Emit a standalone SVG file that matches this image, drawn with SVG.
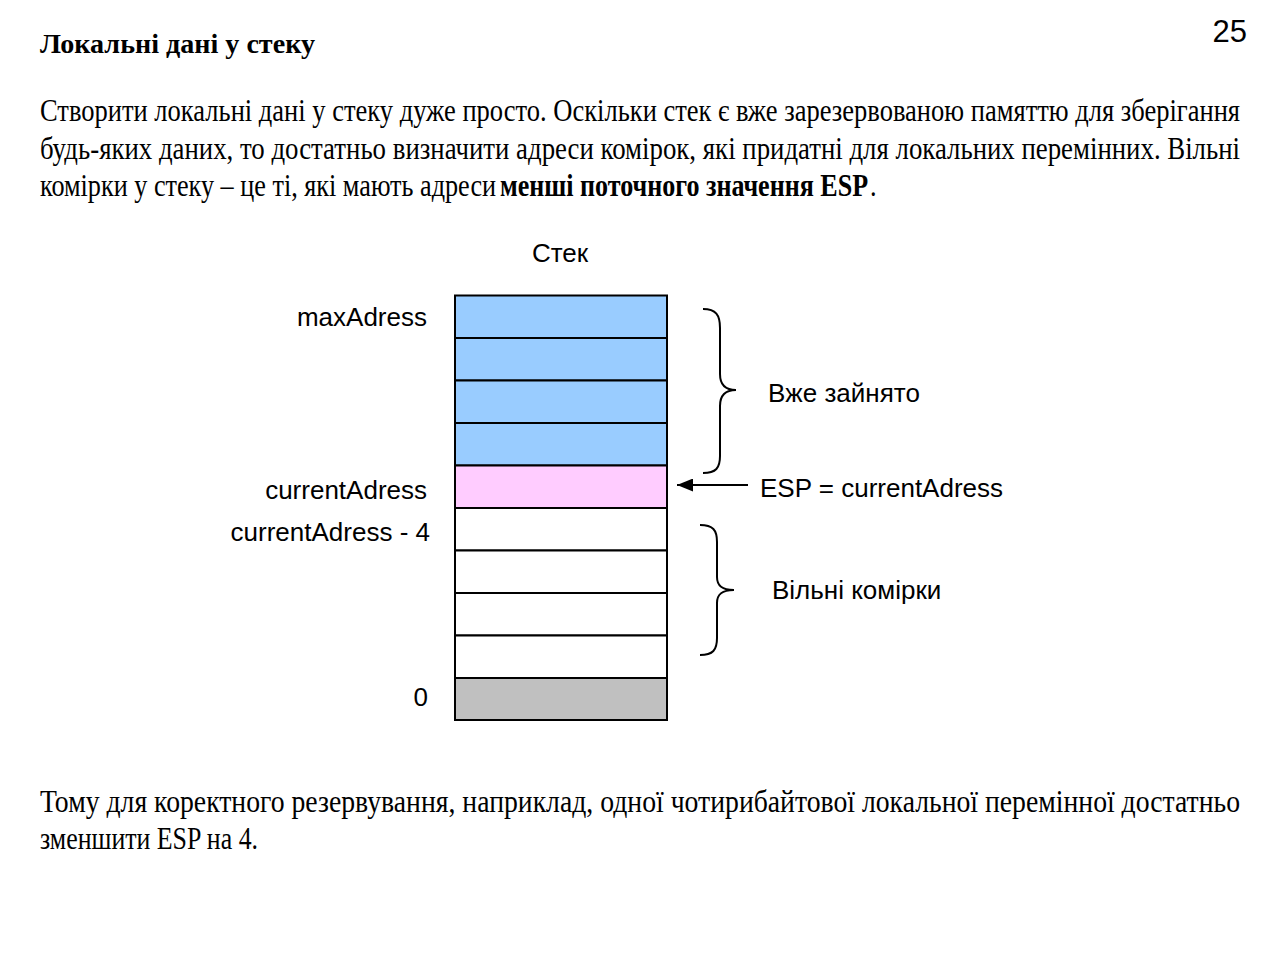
<svg xmlns="http://www.w3.org/2000/svg" width="1280" height="955" viewBox="0 0 1280 955">
<style>
.s{font-family:"Liberation Serif","Times New Roman",serif;font-size:31px;fill:#000}
.t{font-family:"Liberation Serif","Times New Roman",serif;font-size:28px;font-weight:bold;fill:#000}
.b{font-weight:bold}
.a{font-family:"Liberation Sans",Arial,sans-serif;font-size:26px;fill:#000}
.cell{stroke:#000;stroke-width:2}
.br{fill:none;stroke:#000;stroke-width:2}
</style>
<defs>
<marker id="ah" markerWidth="16" markerHeight="13" refX="16" refY="6.5" orient="auto" markerUnits="userSpaceOnUse">
<path d="M0,0 L16,6.5 L0,13 z" fill="#000"/>
</marker>
</defs>
<rect width="1280" height="955" fill="#fff"/>
<text class="a" x="1247" y="42" text-anchor="end" style="font-size:31px">25</text>
<text class="t" x="40" y="53" textLength="275" lengthAdjust="spacingAndGlyphs">Локальні дані у стеку</text>
<text class="s" transform="translate(40,121) scale(0.85,1)" textLength="1411.8" lengthAdjust="spacingAndGlyphs">Створити локальні дані у стеку дуже просто. Оскільки стек є вже зарезервованою памяттю для зберігання</text>
<text class="s" transform="translate(40,158.5) scale(0.85,1)" textLength="1411.8" lengthAdjust="spacingAndGlyphs">будь-яких даних, то достатньо визначити адреси комірок, які придатні для локальних перемінних. Вільні</text>
<text class="s" transform="translate(40,196) scale(0.85,1)" textLength="536.5" lengthAdjust="spacingAndGlyphs">комірки у стеку – це ті, які мають адреси</text>
<text class="s b" transform="translate(500,196) scale(0.85,1)" textLength="433" lengthAdjust="spacingAndGlyphs">менші поточного значення ESP</text>
<text class="s" transform="translate(870,196) scale(0.85,1)">.</text>
<g id="title"><text class="a" x="560" y="262" text-anchor="middle">Стек</text></g>
<g id="stack">
<rect class="cell" x="455" y="295.5" width="212" height="42.5" fill="#99CCFF"/>
<rect class="cell" x="455" y="338" width="212" height="42.5" fill="#99CCFF"/>
<rect class="cell" x="455" y="380.5" width="212" height="42.5" fill="#99CCFF"/>
<rect class="cell" x="455" y="423" width="212" height="42.5" fill="#99CCFF"/>
<rect class="cell" x="455" y="465.5" width="212" height="42.5" fill="#FFCCFF"/>
<rect class="cell" x="455" y="508" width="212" height="42.5" fill="#FFFFFF"/>
<rect class="cell" x="455" y="550.5" width="212" height="42.5" fill="#FFFFFF"/>
<rect class="cell" x="455" y="593" width="212" height="42.5" fill="#FFFFFF"/>
<rect class="cell" x="455" y="635.5" width="212" height="42.5" fill="#FFFFFF"/>
<rect class="cell" x="455" y="678" width="212" height="42" fill="#C0C0C0"/>
</g>
<g id="labels">
<text class="a" x="427" y="326" text-anchor="end">maxAdress</text>
<text class="a" x="427" y="499" text-anchor="end">currentAdress</text>
<text class="a" x="430" y="541" text-anchor="end">currentAdress - 4</text>
<text class="a" x="428" y="706" text-anchor="end">0</text>
</g>
<g id="busy">
<path class="br" d="M703,309 C716,309 720,315 720,328 L720,374 C720,385 725,390 736,390 C725,390 720,395 720,406 L720,456 C720,468 716,473 703,473"/>
<text class="a" x="768" y="402">Вже зайнято</text>
</g>
<g id="free">
<path class="br" d="M700,525 C713,525 717,530 717,542 L717,577 C717,586 722,590 734,590 C722,590 717,594 717,603 L717,638 C717,650 713,655 700,655"/>
<text class="a" x="772" y="599">Вільні комірки</text>
</g>
<g id="connectors">
<line x1="748" y1="485" x2="677" y2="485" stroke="#000" stroke-width="2" marker-end="url(#ah)"/>
</g>
<g id="esp"><text class="a" x="760" y="497">ESP = currentAdress</text></g>
<text class="s" transform="translate(40,812) scale(0.85,1)" textLength="1411.8" lengthAdjust="spacingAndGlyphs">Тому для коректного резервування, наприклад, одної чотирибайтової локальної перемінної достатньо</text>
<text class="s" transform="translate(40,849) scale(0.85,1)" textLength="256.5" lengthAdjust="spacingAndGlyphs">зменшити ESP на 4.</text>
</svg>
